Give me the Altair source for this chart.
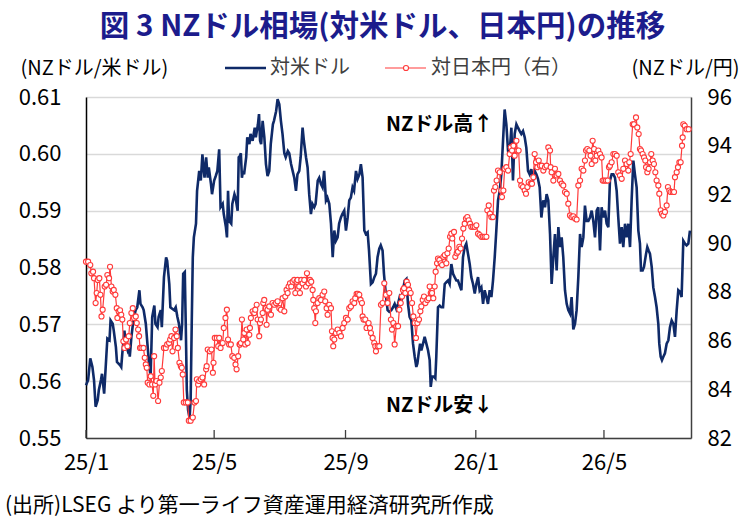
import pandas as pd
import altair as alt

FONT = "Noto Sans CJK JP"
NAVY = "#0f2a68"
RED = "#ff3a3a"
TITLE_BLUE = "#1c1c8c"

W, H = 605, 341
START = pd.Timestamp("2025-01-01")

# NZD/USD (left axis): days elapsed since 2025-01-01 and the rate
usd_days = [
    0, 2, 4, 6, 7.5, 9, 11, 12, 14, 15,
    17, 19, 20, 22, 23, 25, 26, 28, 29, 32,
    33, 34, 36, 37, 39, 40, 41, 42.5, 44, 45,
    46.5, 48, 50, 51, 53, 54, 56, 57.5, 59, 60.5,
    62, 64, 65, 67, 68, 70, 71, 73, 75, 76,
    78, 79, 81, 82.5, 84, 85.6, 87, 89, 90, 91,
    92.5, 93.4, 94.4, 95.6, 97, 98, 99, 100, 101, 103,
    104, 106, 107.5, 109, 110, 111, 112.5, 114, 115, 117,
    118, 120, 121.5, 123, 124.7, 126, 128, 129, 131, 132,
    133, 134, 136, 137, 139, 140, 142, 143, 144,
    145, 146, 147, 148, 150, 151, 153, 154, 156, 158,
    159, 161, 162, 163, 164, 165.4, 167, 168.5, 170, 171.6,
    173, 175, 176, 178, 179.4, 181, 182.5, 184, 185.7, 187,
    189, 190.3, 192, 193.5, 195, 196.6, 198, 199.7, 201, 202.8,
    204, 206, 207.5, 209, 210.6, 212, 213.7, 215, 217, 218.4,
    220, 221.5, 223, 224.7, 226, 227.8, 229.4, 231, 232.5, 234,
    235.6, 237, 238.7, 240, 241.8, 243.4, 245, 246.5, 248, 249.6,
    251, 252.8, 254.3, 256, 257.4, 259, 260.6, 262, 263.7, 265,
    266.8, 268.4, 270, 271.5, 273, 274.6, 276, 277.7, 279, 281,
    282.4, 284,
    285.9, 287.5, 289, 290.6, 292.2, 293.7, 295.3, 296.8, 298.4, 300,
    301.5, 303, 304.6, 306.2, 307.8, 309.3, 310.3, 311.5, 312.8, 314,
    315.6, 317.1, 318.7, 320.3, 321.8, 322.8, 324, 325.6, 327.1, 328,
    329.6, 331.2, 332.7, 334.3, 335.9, 337.4, 339, 340.5, 342.1, 343.7,
    345.2, 346.8, 348.3, 349.9, 351.5, 353, 354.6, 356.1, 357.7, 359.3,
    360.8, 362.4, 364, 365.5, 367.1, 368.6, 370.2, 371.8, 373.3, 374.9,
    376.4, 378, 379.6, 381.1, 382.7, 384.2, 385.8, 387.4, 388.9, 390.5,
    392, 393.6, 395.2, 396.7, 398.3, 399.8, 401.4, 403, 404.5, 406.1,
    407.6, 409.2, 410.8, 412.3, 413.9, 415.4, 417, 418.6, 420.1, 421.7,
    423.2, 424.8, 426.4,
    428.2, 429.8, 431.3, 432.9, 434.5, 436, 437.6, 439.1, 440.7, 442.3,
    443.8, 445.4, 446.9, 448.5, 450.1, 451.6, 453.2, 454.7, 456.3, 457.9,
    459.4, 461, 462.6, 464.1, 465.7, 467.2, 468.8, 470.4, 471.9, 473.5,
    475, 476.6, 478.2, 479.7, 481.3, 482.8, 484.4, 486, 487.5, 489.1,
    490.6, 492.2, 493.8, 495.3, 496.9, 498.4, 500, 501.6, 503.1, 504.7,
    506.2, 507.8, 509.4, 510.9, 512.5, 514, 515.6, 517.2, 518.7, 519.7,
    521.2, 522.5, 524.4, 525.6, 526.8, 528.1, 529.7, 531.2, 532.8, 534.3,
    535.9, 536.8, 538.1, 539.3, 540.6, 542.1, 543.7, 545.3, 546.8, 548.4,
    550, 551.5, 553.1, 554.6, 556.2, 557.7, 559.3, 560.9, 562.4, 564,
    565.5,
]
usd_rate = [
    .5593, .5602, .5640, .5625, .5602, .5555, .5567, .5584, .5602, .5613,
    .5578, .5643, .5675, .5672, .5707, .5701, .5689, .5660, .5634, .5628,
    .5625, .5649, .5689, .5666, .5654, .5660, .5643, .5678, .5701, .5713,
    .5725, .5730, .5760, .5736, .5730, .5725, .5701, .5666, .5631, .5608,
    .5713, .5733, .5701, .5695, .5713, .5725, .5695, .5783, .5818, .5812,
    .5771, .5730, .5727, .5725, .5730, .5713, .5701, .5672, .5701, .5789,
    .5792, .5701, .5584, .5549, .5535, .5567, .5701, .5818, .5853, .5877,
    .5935, .5970, .5953, .5999, .5976, .5958, .5994, .5958, .5976, .5947,
    .5929, .5953, .5961, .5970, .6008, .5906, .5912, .5894, .5871, .5853,
    .5935, .5882, .5877, .5912, .5929, .5923, .5900, .5994, .5996,
    .6001, .5958, .5970, .5964, .5994, .6029, .6017, .6035, .6023, .6046,
    .6029, .6052, .6070, .6023, .6017, .6058, .6029, .5982, .5961, .5970,
    .6017, .6052, .6058, .6075, .6096, .6087, .6058, .6035, .6001, .5994,
    .6005, .6001, .5982, .5970, .5958, .5935, .5964, .5970, .5994, .6046,
    .6023, .5994, .5976, .5929, .5894, .5912, .5906, .5912, .5953, .5958,
    .5947, .5941, .5970, .5918, .5923, .5912, .5877, .5818, .5865, .5847,
    .5853, .5877, .5888, .5894, .5900, .5865, .5888, .5918, .5923, .5941,
    .5935, .5970, .5956, .5964, .5982, .5958, .5865, .5859, .5862, .5830,
    .5771, .5774, .5783, .5789, .5818, .5833, .5839, .5830, .5789, .5748,
    .5725, .5722,
    .5725, .5730, .5736, .5727, .5736, .5748, .5742, .5760, .5777, .5780,
    .5736, .5713, .5707, .5666, .5643, .5625, .5631, .5649, .5666, .5654,
    .5666, .5678, .5666, .5654, .5637, .5590, .5608, .5608, .5605, .5643,
    .5730, .5733, .5730, .5730, .5771, .5774, .5777, .5771, .5806, .5789,
    .5783, .5777, .5777, .5768, .5760, .5818, .5836, .5842, .5824, .5806,
    .5783, .5771, .5754, .5771, .5783, .5760, .5765, .5736, .5760, .5748,
    .5736, .5760, .5748, .5777, .5818, .5865, .5918, .5935, .5964, .6023,
    .6078, .6052, .6005, .6001, .6046, .5953, .6035, .6052, .6046, .6040,
    .6035, .6040, .6029, .6011, .5970, .5964, .5973, .5953, .5970, .5964,
    .5956, .5941, .5888,
    .5918, .5906, .5929, .5918, .5859, .5771, .5818, .5859, .5795, .5871,
    .5836, .5853, .5818, .5760, .5736, .5725, .5719, .5748, .5691, .5701,
    .5725, .5783, .5859, .5836, .5853, .5909, .5882, .5882, .5888, .5900,
    .5882, .5853, .5900, .5906, .5830, .5906, .5888, .5900, .5877, .5871,
    .5953, .5964, .5964, .5958, .5935, .5888, .5842, .5871, .5836, .5877,
    .5853, .5877, .5836, .5918, .5988, .5964, .5941, .5865, .5842, .5795,
    .5795, .5801, .5824, .5836, .5830, .5824, .5801, .5765, .5748, .5730,
    .5701, .5666, .5643, .5637, .5643, .5649, .5666, .5672, .5695, .5707,
    .5701, .5678, .5725, .5760, .5757, .5748, .5847, .5842, .5839, .5842,
    .5865,
]

# NZD/JPY (right axis): days elapsed since 2025-01-01 and the rate
jpy_days = [
    0, 2, 4, 5, 6.6, 7.5, 9, 10, 11, 12.5,
    13.5, 14.5, 15.6, 17.5, 18.8, 20, 21.6, 22.5, 23.8, 25,
    26, 27.5, 28.8, 29.4, 30.6, 31.9, 33, 34, 35, 36,
    37.5, 38.8, 40, 41, 42.5, 43.8, 45, 46.6, 47.5, 48.8,
    49.7, 50.6, 51.9, 53.8, 55, 56, 56.9, 57.8, 59.4, 60.6,
    61.9, 63, 63.8, 64.7, 66, 67.5, 68.8, 70, 71, 73,
    74.7, 76, 77.8, 78.8, 80, 81, 82.5, 83.8, 85, 86,
    87.5, 88.8, 89.7, 90.6, 91.6, 93.4, 95.3, 96.3, 98, 100,
    101.6, 103, 103.8, 105, 106, 107.5, 109, 110.6, 112.5, 113,
    114, 116, 117.5, 118.8, 119.4, 120.6, 122.5, 123.8, 124.7, 126,
    128, 129, 130.6, 131.9, 133, 134, 135.6, 137, 138.8, 140,
    141, 142.5, 143.8,
    144.1, 145.1, 146, 147.3, 148.2, 149.1, 150.4, 151.3, 152.9, 153.5,
    154.4, 156, 157.6, 158.5, 159.8, 160.7, 162.2, 162.9, 163.8, 165.4,
    166, 166.9, 168.5, 169.1, 170, 171.6, 173.2, 174.7, 176.3, 177.9,
    179.4, 181, 182.5, 184.1, 185.7, 186.6, 187.8, 188.8, 189.7, 191,
    192.2, 193.5, 195, 196, 197.2, 198.1, 199.7, 200.3, 201.6, 202.8,
    204.4, 206, 206.9, 208.4, 209.7, 210.9, 212.2, 212.8, 213.7, 214.7,
    215.3, 216.9, 218.4, 220, 221.5, 223.1, 224, 225.3, 226.2, 227.8,
    229.4, 230.3, 230.9, 231.5, 232.5, 234, 235.6, 237.2, 238.7, 240.3,
    241.8, 243.4, 245, 246.5, 248.1, 249.6, 251.2, 252.1, 253.4, 254.6,
    255.9, 257.1, 258.4, 259, 259.9, 261.5, 262.7, 264.6, 265.9, 266.8,
    268.4, 269.9, 270.9, 271.5, 273.1, 274.6, 276.2, 277.7, 279.3, 280.9,
    282.4, 284, 285.5,
    286.5, 287.8, 289, 290.6, 292.2, 293.4, 294.7, 295.9, 296.8, 297.8,
    299, 300.3, 301.5, 302.5, 304, 305.3, 306.5, 307.8, 309, 310.3,
    311.8, 313.1, 314, 315.3, 316.5, 317.8, 319.6, 320.9, 321.8, 322.8,
    324, 325.2, 326.5, 327.4, 328.7, 329.6, 330.9, 332.1, 333.4, 334.6,
    335.9, 337.4, 338.4, 339.6, 340.9, 342.1, 343, 344.6, 345.8, 347.1,
    348.3, 349.6, 350.8, 352.1, 353.3, 354.6, 355.8, 357.1, 358.3, 359.6,
    360.8, 362.4, 364, 365.5, 367.1, 368.6, 370.2, 371.8, 373.3, 374.9,
    375.8, 377.1, 378.3, 379.6, 381.1, 382, 383.3, 384.5, 385.8, 387.4,
    388.9, 389.5, 390.8, 392, 393.6, 395.2, 396.7, 397.7, 398.9, 400.2,
    401.4, 403, 403.9, 405.1, 406.4, 407.6, 409.2, 410.8, 412, 413.3,
    414.5, 416.4, 417.6, 418.9, 420.1, 421.4, 422.6, 423.9, 425.1,
    426.7, 428.2, 429.8, 431.3, 432.9, 434.5, 435.1, 436, 437.6, 439.1,
    440.7, 442.3, 443.8, 445.4, 446.9, 448.5, 450.1, 451.6, 453.2, 454.7,
    456.3, 457.9, 459.4, 461, 462.6, 464.1, 465.7, 467.2, 468.2, 469.4,
    471.3, 472.5, 473.5, 474.4, 475.7, 476.9, 478.2, 479.7, 481.3, 482.8,
    483.8, 485.3, 486.9, 488.5, 489.7, 490.6, 492.2, 493.8, 495.3, 496.9,
    498.4, 500, 501.6, 503.1, 504.7, 506.2, 507.8, 508.7, 510, 511.9,
    513.1, 515, 516.2, 517.5, 518.7, 519.7, 521.2, 522.5, 523.7, 524.4,
    525.6, 526.8, 528.1, 529.3, 530.6, 531.8, 533.1, 534.3, 535.9, 536.8,
    538.1, 539.3, 540.6, 542.1, 543.7, 544.9, 546.2, 547.4, 549.3, 550.6,
    551.5, 553.1, 554.3, 555.6, 556.8, 558.1, 558.7, 559.3, 560.6, 562.4,
    564.3,
]
jpy_rate = [
    89.24, 89.24, 89.10, 88.76, 88.83, 88.56, 87.54, 87.95, 88.49, 88.56,
    87.88, 86.99, 87.27, 88.22, 88.29, 88.69, 88.56, 89.03, 88.22, 88.01,
    88.08, 87.88, 87.33, 86.93, 87.20, 87.24, 87.06, 86.86, 85.97, 85.70,
    86.04, 85.77, 86.18, 86.72, 87.13, 87.33, 86.93, 86.99, 86.72, 86.45,
    86.18, 85.70, 85.70, 85.70, 85.29, 85.02, 84.88, 84.27, 84.20, 84.54,
    84.20, 83.73, 85.36, 84.20, 84.34, 83.52, 84.27, 84.48, 84.75, 85.70,
    85.70, 85.84, 85.90, 86.04, 86.18, 85.56, 86.11, 86.45, 86.18, 85.70,
    85.09, 84.95, 84.88, 84.61, 83.46, 83.46, 83.46, 82.71, 82.71, 82.84,
    83.46, 83.52, 84.41, 84.20, 84.34, 84.41, 84.48, 84.20, 84.82, 84.95,
    85.63, 85.56, 85.63, 84.68, 85.09, 86.11, 86.11, 85.77, 86.11, 85.70,
    85.90, 86.52, 86.93, 87.27, 86.04, 85.84, 85.84, 85.36, 85.29, 85.02,
    84.82, 85.36, 85.84,
    85.84, 85.90, 86.86, 86.04, 86.31, 85.84, 86.45, 85.90, 86.24, 86.52,
    86.93, 87.20, 87.13, 87.27, 87.47, 86.86, 86.18, 86.72, 86.86, 87.13,
    87.54, 87.67, 87.33, 86.65, 87.27, 87.40, 87.06, 87.54, 87.47, 87.54,
    87.61, 87.33, 87.27, 87.74, 87.20, 87.81, 88.08, 87.95, 88.22, 88.35,
    88.22, 88.42, 88.49, 87.95, 88.42, 88.49, 88.22, 87.95, 88.49, 88.35,
    88.49, 88.22, 88.76, 88.35, 88.49, 88.42, 88.08, 87.67, 87.33, 86.72,
    87.20, 87.54, 87.74, 87.67, 87.88, 88.01, 87.61, 87.33, 87.06, 87.47,
    87.33, 86.38, 86.11, 85.77, 86.04, 86.31, 86.45, 86.31, 86.18, 86.52,
    86.72, 86.93, 86.86, 87.33, 87.40, 87.61, 87.54, 87.74, 87.92, 87.92,
    87.88, 87.67, 87.54, 86.99, 86.86, 86.86, 86.52, 86.72, 86.52, 86.31,
    86.11, 85.90, 85.77, 85.56, 85.77, 85.77, 87.47, 87.54, 88.35, 87.88,
    87.54, 87.95, 86.86,
    86.45, 86.72, 85.84, 86.59, 86.59, 87.27, 87.54, 87.81, 88.08, 88.15,
    87.95, 88.42, 88.29, 88.08, 87.95, 87.54, 86.99, 86.72, 86.11, 86.72,
    86.86, 87.20, 87.40, 87.67, 87.81, 87.54, 87.67, 87.74, 88.22, 87.95,
    87.95, 87.74, 88.22, 88.83, 89.17, 89.37, 89.31, 89.17, 89.10, 89.44,
    89.51, 89.17, 89.58, 89.78, 90.26, 90.39, 90.19, 90.46, 89.44, 89.58,
    89.65, 89.85, 89.78, 90.19, 90.60, 90.80, 91.01, 91.07, 90.94, 90.80,
    90.67, 90.67, 90.67, 90.73, 90.39, 90.33, 90.26, 90.26, 90.26, 90.26,
    91.35, 91.55, 91.21, 91.07, 91.07, 92.16, 92.30, 92.57, 92.98, 92.91,
    92.16, 91.89, 92.16, 93.05, 93.12, 92.98, 93.66, 93.93, 93.80, 94.00,
    93.59, 94.20, 93.80, 93.80, 92.57, 92.37, 92.30, 92.16, 92.03, 92.30,
    92.50, 92.44, 92.44, 92.71, 93.66, 93.32, 93.12, 93.39, 93.18,
    93.18, 92.98, 93.12, 93.18, 93.93, 93.80, 93.12, 92.91, 92.57, 93.05,
    92.78, 92.84, 92.57, 92.44, 92.37, 92.10, 92.03, 91.62, 91.14, 91.07,
    91.10, 91.01, 90.97, 92.37, 92.57, 93.05, 92.98, 93.39, 93.80, 93.86,
    93.80, 93.59, 93.25, 94.20, 93.86, 93.39, 93.59, 93.80, 93.66, 93.52,
    92.57, 92.57, 92.57, 92.57, 93.12, 93.18, 93.32, 93.66, 93.66, 93.59,
    92.91, 92.78, 92.64, 93.05, 93.39, 93.25, 92.98, 93.32, 93.66, 94.88,
    94.88, 95.16, 94.75, 94.48, 93.86, 93.80, 93.66, 93.52, 93.39, 93.12,
    92.91, 93.05, 93.32, 93.66, 93.39, 93.25, 92.91, 92.57, 92.37, 92.03,
    91.35, 91.21, 91.14, 91.28, 91.55, 92.30, 92.16, 92.10, 92.10, 92.10,
    92.71, 92.91, 93.12, 93.32, 93.32, 94.00, 94.34, 94.88, 94.82, 94.68,
    94.68,
]

usd_ticks = [0.55, 0.56, 0.57, 0.58, 0.59, 0.60, 0.61]
jpy_ticks = [82, 84, 86, 88, 90, 92, 94, 96]
month_ticks = [(2025, 1), (2025, 5), (2025, 9), (2026, 1), (2026, 5)]

assert len(usd_days) == len(usd_rate), (len(usd_days), len(usd_rate))
assert len(jpy_days) == len(jpy_rate), (len(jpy_days), len(jpy_rate))


def to_dates(days):
    return START + pd.to_timedelta(days, unit="D")


usd = pd.DataFrame({"date": to_dates(usd_days), "rate": usd_rate})
jpy = pd.DataFrame({"date": to_dates(jpy_days), "rate": jpy_rate})
tick_df = pd.DataFrame({"date": [pd.Timestamp(y, m, 1) for y, m in month_ticks]})

x_scale = alt.Scale(domain=[alt.DateTime(year=2025, month=1, date=1),
                            alt.DateTime(year=2026, month=7, date=21, hours=12)])
x_enc = alt.X(
    "date:T", scale=x_scale, title=None,
    axis=alt.Axis(
        values=[alt.DateTime(year=y, month=m, date=1) for y, m in month_ticks],
        format="%y/%-m", labelFontSize=22, labelColor="#000", labelPadding=14,
        labelFlush=False, labelOverlap=False, ticks=False, grid=False,
        domainColor="#404040", domainWidth=1.5,
    ),
)

y_usd = alt.Y(
    "rate:Q", title="(NZドル/米ドル)",
    scale=alt.Scale(domain=[0.55, 0.61], nice=False, zero=False),
    axis=alt.Axis(
        values=usd_ticks, format=".2f", grid=True, gridColor="#d9d9d9",
        gridWidth=1.5, ticks=False, domainColor="#000", domainWidth=1.5,
        labelFontSize=22, labelColor="#000", labelPadding=25,
        titleAngle=0, titleX=-66, titleY=-29, titleAlign="left",
        titleBaseline="middle", titleFontSize=20, titleFontWeight="normal",
        titleColor="#000",
    ),
)

y_jpy = alt.Y(
    "rate:Q", title="(NZドル/円)",
    scale=alt.Scale(domain=[82, 96], nice=False, zero=False),
    axis=alt.Axis(
        orient="right", values=jpy_ticks, grid=False, ticks=False,
        domainColor="#404040", domainWidth=1.5, labelFontSize=22,
        labelColor="#000", labelPadding=16, titleAngle=0, titleX=48,
        titleY=-29, titleAlign="right", titleBaseline="middle",
        titleFontSize=20, titleFontWeight="normal", titleColor="#000",
    ),
)

usd_line = alt.Chart(usd).mark_line(color=NAVY, strokeWidth=2.6).encode(x=x_enc, y=y_usd)

# inward tick marks on the date axis
date_ticks = alt.Chart(tick_df).mark_rule(color="#404040", strokeWidth=1.3).encode(
    x=x_enc, y=alt.value(H), y2=alt.value(H - 8)
)

left = alt.layer(usd_line, date_ticks)

jpy_line = alt.Chart(jpy).mark_line(
    color=RED, strokeWidth=1.2,
    point=alt.OverlayMarkDef(filled=True, fill="white", stroke=RED,
                             strokeWidth=1.1, size=26),
).encode(x=x_enc, y=y_jpy)


def label(text, x, y, size=20, weight="normal", color="#000", align="left"):
    return alt.Chart(pd.DataFrame({"t": [text]})).mark_text(
        align=align, baseline="middle", fontSize=size, fontWeight=weight,
        color=color, font=FONT,
    ).encode(x=alt.value(x), y=alt.value(y), text="t:N")


one = pd.DataFrame({"k": [0]})
legend_usd = alt.Chart(one).mark_rule(color=NAVY, strokeWidth=2.6).encode(
    x=alt.value(139), x2=alt.value(180), y=alt.value(-29))
legend_jpy = alt.Chart(one).mark_rule(color=RED, strokeWidth=1.2).encode(
    x=alt.value(299), x2=alt.value(340), y=alt.value(-29))
legend_jpy_pt = alt.Chart(one).mark_point(
    filled=True, fill="white", stroke=RED, strokeWidth=1.1, size=26, opacity=1
).encode(x=alt.value(320), y=alt.value(-29))

chart = alt.layer(
    left,
    jpy_line,
    legend_usd,
    legend_jpy,
    legend_jpy_pt,
    label("対米ドル", 184, -29, color="#404040"),
    label("対日本円（右）", 345, -29, color="#404040"),
    label("NZドル高↑", 300, 28, size=20, weight="bold"),
    label("NZドル安↓", 300, 309, size=20, weight="bold"),
    label("(出所)LSEG より第一ライフ資産運用経済研究所作成", -81, 409, size=21),
).resolve_scale(
    y="independent"
).properties(
    width=W,
    height=H,
    autosize=alt.AutoSizeParams(type="none"),
    padding={"left": 86, "top": 97, "right": 53, "bottom": 82},
    title=alt.TitleParams(
        "図 3  NZドル相場(対米ドル、日本円)の推移",
        fontSize=29.5, fontWeight="bold", color=TITLE_BLUE, font=FONT,
        anchor="middle", frame="group", offset=16, dx=-6,
    ),
).configure(
    font=FONT
).configure_view(
    stroke=None
).configure_axis(
    labelFont=FONT, titleFont=FONT
)

chart.save("out.html", embed_options={"renderer": "svg", "actions": False})
